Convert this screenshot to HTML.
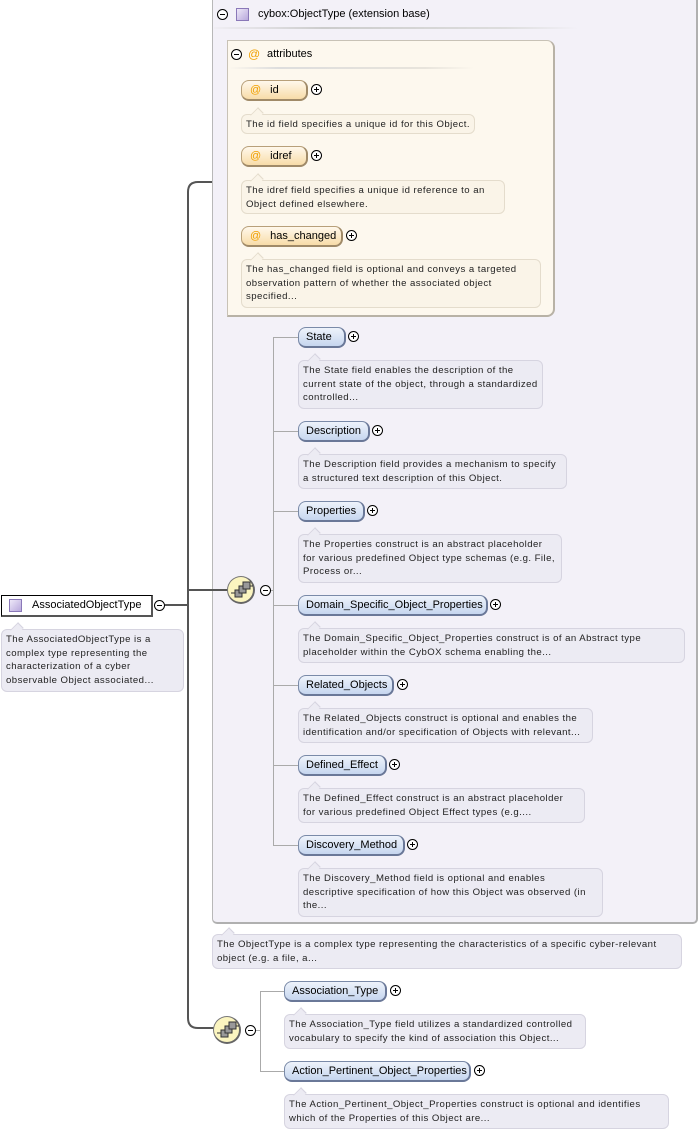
<!DOCTYPE html>
<html><head><meta charset="utf-8"><style>
*{box-sizing:border-box;margin:0;padding:0}
body{width:700px;height:1132px;background:#fff;position:relative;overflow:hidden;font-family:"Liberation Sans",Arial,sans-serif;color:#000}
.a{position:absolute}
.outer{left:212px;top:-3px;width:486px;height:927px;background:#f3f1f8;border:1px solid #b8b8b8;border-right:2px solid #b0b0b0;border-bottom:2px solid #b0b0b0;border-radius:0 0 5px 5px}
.attr{left:227px;top:40px;width:328px;height:277px;background:#fdf8ee;border:1px solid #c8c2b6;border-right:2px solid #b8b2a6;border-bottom:2px solid #b8b2a6;border-radius:0 8px 8px 0}
.pill{position:absolute;height:21px;border:1px solid #7a8aa8;border-right:2px solid #6a7898;border-bottom:2px solid #6a7898;border-radius:8px;background:linear-gradient(#eef3fb,#c6d6ef);font-size:11px;line-height:19px;padding-left:7px}
.apill{position:absolute;height:21px;border:1px solid #b8a07a;border-right:2px solid #a08a68;border-bottom:2px solid #a08a68;border-radius:8px;background:linear-gradient(#fff8ec,#f8dca8);font-size:11px;line-height:19px;padding-left:8px}
.apill b{color:#f0a000;font-weight:normal;margin-right:9px}
.doc{position:absolute;background:#ecebf3;border:1px solid #d6d4e0;border-radius:6px;font-size:9.6px;letter-spacing:.45px;line-height:13.5px;padding:3px 0 0 4px;color:#222;white-space:nowrap}
.adoc{background:#faf4e8;border-color:#e4dccc}
.doc:before{content:"";position:absolute;left:10px;top:-6px;width:9px;height:9px;background:inherit;border-left:1px solid #d6d4e0;border-top:1px solid #d6d4e0;transform:rotate(45deg) scale(.8,1.1)}
.adoc:before{border-color:#e4dccc}
.plus,.minus{position:absolute;width:11px;height:11px;border:1px solid #000;border-radius:50%;background:#fff}
.plus:before,.minus:before{content:"";position:absolute;left:2px;top:4px;width:5px;height:1px;background:#000}
.plus:after{content:"";position:absolute;left:4px;top:2px;width:1px;height:5px;background:#000}
.seq{position:absolute;width:28px;height:28px;border-radius:50%;background:#fbf5c0;border:1px solid #777;border-right:2px solid #666;border-bottom:2px solid #666}
.ln{position:absolute;background:#aaa}
</style></head><body>
<div class="a outer"></div>
<div class="minus" style="left:217px;top:9px"></div>
<div class="a" style="left:236px;top:8px;width:13px;height:13px;background:linear-gradient(135deg,#eee8f8,#b8a8dc);border:1px solid #8a78b8"></div>
<div class="a" style="left:258px;top:8px;font-size:11px">cybox:ObjectType (extension base)</div>
<div class="a" style="left:214px;top:27px;width:364px;height:2px;background:linear-gradient(90deg,#f0eef4,#ccc 30%,#ddd 80%,#f3f1f8)"></div>

<div class="a attr"></div>
<div class="minus" style="left:231px;top:49px"></div>
<div class="a" style="left:248px;top:47px;font-size:12px;color:#f0a000">@</div>
<div class="a" style="left:267px;top:48px;font-size:11px">attributes</div>
<div class="a" style="left:229px;top:67px;width:245px;height:2px;background:linear-gradient(90deg,#fdf8ee,#ddd 20%,#e8e4dc 80%,#fdf8ee)"></div>

<div class="apill" style="left:241px;top:80px;width:67px"><b>@</b>id</div>
<div class="plus" style="left:311px;top:84px"></div>
<div class="doc adoc" style="left:241px;top:114px;width:234px;height:20px">The id field specifies a unique id for this Object.</div>
<div class="apill" style="left:241px;top:146px;width:67px"><b>@</b>idref</div>
<div class="plus" style="left:311px;top:150px"></div>
<div class="doc adoc" style="left:241px;top:180px;width:264px;height:34px">The idref field specifies a unique id reference to an<br>Object defined elsewhere.</div>
<div class="apill" style="left:241px;top:226px;width:102px"><b>@</b>has_changed</div>
<div class="plus" style="left:346px;top:230px"></div>
<div class="doc adoc" style="left:241px;top:259px;width:300px;height:49px">The has_changed field is optional and conveys a targeted<br>observation pattern of whether the associated object<br>specified...</div>

<div class="ln" style="left:273px;top:337px;width:1px;height:508px"></div>
<div class="ln" style="left:273px;top:337px;width:25px;height:1px"></div>
<div class="ln" style="left:273px;top:431px;width:25px;height:1px"></div>
<div class="ln" style="left:273px;top:511px;width:25px;height:1px"></div>
<div class="ln" style="left:273px;top:605px;width:25px;height:1px"></div>
<div class="ln" style="left:273px;top:685px;width:25px;height:1px"></div>
<div class="ln" style="left:273px;top:765px;width:25px;height:1px"></div>
<div class="ln" style="left:273px;top:845px;width:25px;height:1px"></div>
<div class="ln" style="left:270px;top:590px;width:4px;height:1px"></div>

<div class="pill" style="left:298px;top:327px;width:48px">State</div><div class="plus" style="left:348px;top:331px"></div>
<div class="doc" style="left:298px;top:360px;width:245px;height:49px">The State field enables the description of the<br>current state of the object, through a standardized<br>controlled...</div>
<div class="pill" style="left:298px;top:421px;width:72px">Description</div><div class="plus" style="left:372px;top:425px"></div>
<div class="doc" style="left:298px;top:454px;width:269px;height:35px">The Description field provides a mechanism to specify<br>a structured text description of this Object.</div>
<div class="pill" style="left:298px;top:501px;width:67px">Properties</div><div class="plus" style="left:367px;top:505px"></div>
<div class="doc" style="left:298px;top:534px;width:264px;height:49px">The Properties construct is an abstract placeholder<br>for various predefined Object type schemas (e.g. File,<br>Process or...</div>
<div class="pill" style="left:298px;top:595px;width:190px">Domain_Specific_Object_Properties</div><div class="plus" style="left:490px;top:599px"></div>
<div class="doc" style="left:298px;top:628px;width:387px;height:35px">The Domain_Specific_Object_Properties construct is of an Abstract type<br>placeholder within the CybOX schema enabling the...</div>
<div class="pill" style="left:298px;top:675px;width:96px">Related_Objects</div><div class="plus" style="left:397px;top:679px"></div>
<div class="doc" style="left:298px;top:708px;width:295px;height:35px">The Related_Objects construct is optional and enables the<br>identification and/or specification of Objects with relevant...</div>
<div class="pill" style="left:298px;top:755px;width:89px">Defined_Effect</div><div class="plus" style="left:389px;top:759px"></div>
<div class="doc" style="left:298px;top:788px;width:287px;height:35px">The Defined_Effect construct is an abstract placeholder<br>for various predefined Object Effect types (e.g....</div>
<div class="pill" style="left:298px;top:835px;width:107px">Discovery_Method</div><div class="plus" style="left:407px;top:839px"></div>
<div class="doc" style="left:298px;top:868px;width:305px;height:49px">The Discovery_Method field is optional and enables<br>descriptive specification of how this Object was observed (in<br>the...</div>

<div class="doc" style="left:212px;top:934px;width:470px;height:35px">The ObjectType is a complex type representing the characteristics of a specific cyber-relevant<br>object (e.g. a file, a...</div>

<div class="ln" style="left:260px;top:991px;width:1px;height:80px"></div>
<div class="ln" style="left:260px;top:991px;width:24px;height:1px"></div>
<div class="ln" style="left:260px;top:1071px;width:24px;height:1px"></div>
<div class="ln" style="left:255px;top:1030px;width:5px;height:1px"></div>
<div class="pill" style="left:284px;top:981px;width:103px">Association_Type</div><div class="plus" style="left:390px;top:985px"></div>
<div class="doc" style="left:284px;top:1014px;width:302px;height:35px">The Association_Type field utilizes a standardized controlled<br>vocabulary to specify the kind of association this Object...</div>
<div class="pill" style="left:284px;top:1061px;width:187px">Action_Pertinent_Object_Properties</div><div class="plus" style="left:474px;top:1065px"></div>
<div class="doc" style="left:284px;top:1094px;width:385px;height:35px">The Action_Pertinent_Object_Properties construct is optional and identifies<br>which of the Properties of this Object are...</div>

<svg class="a" style="left:0;top:0" width="700" height="1132">
<path d="M165 605 H188 M212 182 H198 Q188 182 188 192 V1018 Q188 1028 198 1028 H214 M188 590 H228" fill="none" stroke="#555" stroke-width="2"/>
</svg>
<div class="seq" style="left:227px;top:576px"></div>
<div class="seq" style="left:213px;top:1016px"></div>
<svg class="a" style="left:227px;top:576px" width="30" height="30"><g fill="#999" stroke="#333" stroke-width="1"><rect x="8" y="14" width="7" height="7"/><rect x="12" y="10" width="7" height="7"/><rect x="16" y="6" width="7" height="7"/></g><path d="M4 17H8M23 10H26" stroke="#333"/></svg>
<svg class="a" style="left:213px;top:1016px" width="30" height="30"><g fill="#999" stroke="#333" stroke-width="1"><rect x="8" y="14" width="7" height="7"/><rect x="12" y="10" width="7" height="7"/><rect x="16" y="6" width="7" height="7"/></g><path d="M4 17H8M23 10H26" stroke="#333"/></svg>
<div class="minus" style="left:260px;top:585px"></div>
<div class="minus" style="left:245px;top:1025px"></div>

<div class="a" style="left:1px;top:595px;width:152px;height:22px;background:#fff;border:1px solid #000;border-right:2px solid #555;border-bottom:2px solid #555"></div>
<div class="a" style="left:9px;top:599px;width:13px;height:13px;background:linear-gradient(135deg,#eee8f8,#b8a8dc);border:1px solid #8a78b8"></div>
<div class="a" style="left:32px;top:599px;font-size:11px">AssociatedObjectType</div>
<div class="minus" style="left:154px;top:600px"></div>
<div class="doc" style="left:1px;top:629px;width:183px;height:63px">The AssociatedObjectType is a<br>complex type representing the<br>characterization of a cyber<br>observable Object associated...</div>
</body></html>
